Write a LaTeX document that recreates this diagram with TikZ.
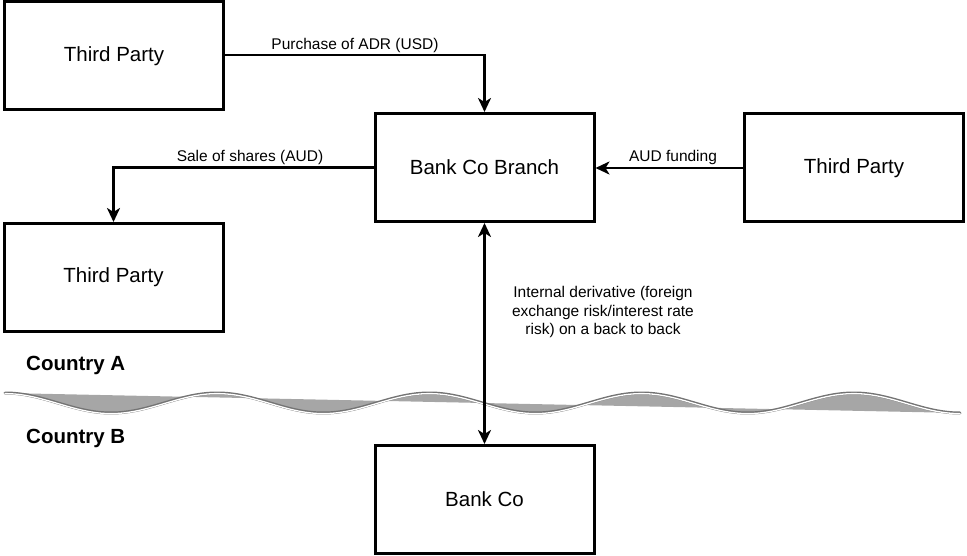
\documentclass[tikz,border=0pt]{standalone}
\usepackage{fontspec}
\setmainfont{Liberation Sans}
\usetikzlibrary{arrows.meta}
\begin{document}
\begin{tikzpicture}[x=1pt,y=-1pt,
  box/.style={draw=black,line width=3pt,fill=white,minimum width=219pt,minimum height=108pt,inner sep=0pt,
    font=\fontsize{20.5}{24}\selectfont},
  conn/.style={line width=2.4pt,-{Stealth[length=14pt,width=13pt,inset=4pt]}},
  biconn/.style={line width=2.4pt,{Stealth[length=14pt,width=13pt,inset=4pt]}-{Stealth[length=14pt,width=13pt,inset=4pt]}},
  lbl/.style={font=\fontsize{15.5}{18.5}\selectfont,inner sep=0pt},
  country/.style={font=\bfseries\fontsize{20.5}{24}\selectfont,inner sep=0pt,anchor=west}]
\useasboundingbox (0,0) rectangle (967,556);
% wave boundary
\fill[black!35] plot[domain=5:960,samples=200,smooth] (\x,{403-10*cos(1.69651*(\x-5))}) -- cycle;
\draw[black!55,line width=3pt,line cap=round] plot[domain=5:960,samples=200,smooth] (\x,{403-10*cos(1.69651*(\x-5))});
\draw[white,line width=1.3pt,line cap=round] plot[domain=5:960,samples=200,smooth] (\x,{403.6-10*cos(1.69651*(\x-5))});
% boxes
\node[box] (tp1) at (114,56) {Third Party};
\node[box] (bcb) at (484.5,167.5) {Bank Co Branch};
\node[box] (tpr) at (854,168) {Third Party};
\node[box] (tpl) at (113.5,277.5) {Third Party};
\node[box] (bc) at (484.5,499.5) {Bank Co};
% connectors
\draw[conn] (tp1.east |- 0,55) -| (bcb.north);
\draw[conn] (bcb.west) -| (tpl.north);
\draw[conn] (tpr.west) -- (bcb.east |- tpr.west);
\draw[biconn] (bcb.south) -- (bc.north);
% labels
\node[lbl] (l1) at (355,45) {Purchase of ADR (USD)};
\node[lbl] (l2) at (250,157) {Sale of shares (AUD)};
\node[lbl] (l3) at (673,157) {AUD funding};
\node[lbl,align=center] (l4) at (603,312) {Internal derivative (foreign\\exchange risk/interest rate\\risk) on a back to back};
\node[country] (ca) at (26,365) {Country A};
\node[country] (cb) at (26,438) {Country B};
\end{tikzpicture}
\end{document}
